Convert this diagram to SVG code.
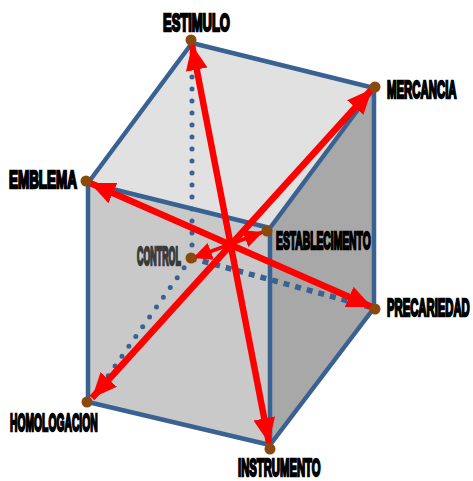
<svg xmlns="http://www.w3.org/2000/svg" width="473" height="481" viewBox="0 0 473 481">
<style>
.edge{fill:none;stroke:#396292;stroke-width:4.5;stroke-linejoin:round;stroke-linecap:round}
.dot{fill:none;stroke:#396292;stroke-width:5;stroke-linecap:round;stroke-dasharray:0 12}
.sq{fill:none;stroke:#396292;stroke-width:5.5;stroke-dasharray:6 6}
.ax{fill:none;stroke:#ff0000;stroke-width:6.5}
.axs{fill:none;stroke:#ff0000;stroke-width:4}
.v{fill:#8a4a0c}
.t{font-family:"Liberation Sans",Arial,sans-serif;font-weight:bold;font-size:24px;fill:#000;stroke:#000;stroke-width:2.3}
.g{fill:#3a3a3a;stroke:#3a3a3a}
</style>
<defs>
<marker id="a" markerUnits="userSpaceOnUse" markerWidth="26" markerHeight="24" refX="25" refY="12" orient="auto-start-reverse"><path d="M0 1L25 12L0 23z" fill="#ff0000"/></marker>
<marker id="b" markerUnits="userSpaceOnUse" markerWidth="20" markerHeight="20" refX="19" refY="10" orient="auto-start-reverse"><path d="M0 1L19 10L0 19z" fill="#ff0000"/></marker>
</defs>
<g id="faces">
<polygon points="192,43 374,88 270,228 88,183" fill="#e1e1e1"/>
<polygon points="88,183 270,228 270,445 88,402" fill="#c9c9c9"/>
<polygon points="270,228 374,88 374,308 270,445" fill="#a8a8a8"/>
</g>
<g id="connectors">
<path class="dot" d="M192,53V258"/>
<path class="dot" d="M191,258L94,396"/>
<path class="sq" d="M191,258L370,307"/>
<path class="edge" d="M192,43L374,88V308L270,445L88,402V183ZM88,183L270,228V445M270,228L374,88"/>
<path class="ax" d="M192,45L269,443" marker-start="url(#a)" marker-end="url(#a)"/>
<path class="ax" d="M372,89L92,398" marker-start="url(#a)" marker-end="url(#a)"/>
<path class="ax" d="M90,183L372,307" marker-start="url(#a)" marker-end="url(#a)"/>
<path class="axs" d="M263,232L193,258" marker-start="url(#b)" marker-end="url(#b)"/>
</g>
<g id="estimulo"><circle class="v" cx="191" cy="40" r="5.5"/><text class="t" transform="translate(163,31) scale(.54,1)">ESTIMULO</text></g>
<g id="mercancia"><circle class="v" cx="375" cy="87" r="5.5"/><text class="t" transform="translate(387,98) scale(.475,1)">MERCANCIA</text></g>
<g id="emblema"><circle class="v" cx="86" cy="181" r="5.5"/><text class="t" transform="translate(9,188) scale(.56,1)">EMBLEMA</text></g>
<g id="establecimento"><circle class="v" cx="267" cy="231" r="5.5"/><text class="t" transform="translate(276,249) scale(.43,1.02)">ESTABLECIMENTO</text></g>
<g id="control"><circle class="v" cx="191" cy="258" r="5.5"/><text class="t g" transform="translate(137,265) scale(.37,1.08)">CONTROL</text></g>
<g id="precariedad"><circle class="v" cx="375" cy="309" r="5.5"/><text class="t" transform="translate(387,316) scale(.47,1)">PRECARIEDAD</text></g>
<g id="homologacion"><circle class="v" cx="87" cy="402" r="5.5"/><text class="t" transform="translate(10,431) scale(.43,1)">HOMOLOGACION</text></g>
<g id="instrumento"><circle class="v" cx="270" cy="449" r="5.5"/><text class="t" transform="translate(238,476) scale(.47,1)">INSTRUMENTO</text></g>
</svg>
